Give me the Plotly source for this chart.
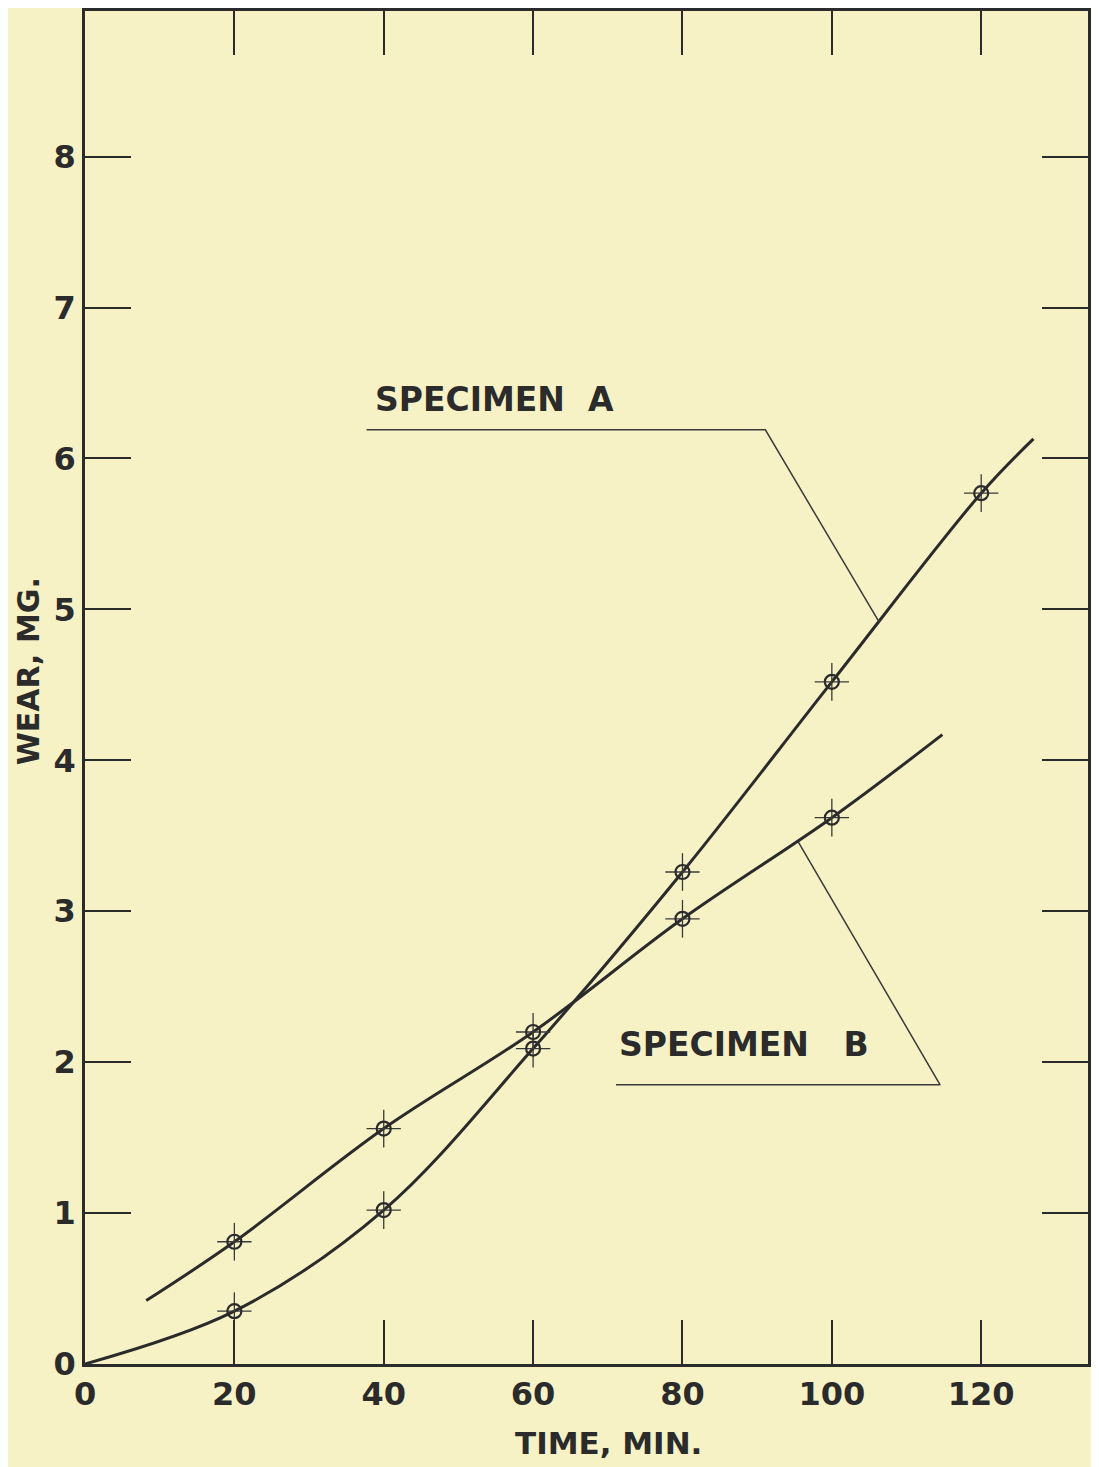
import plotly.graph_objects as go

# ---- data ----
time_pts = [20, 40, 60, 80, 100, 120]
wear_a = [0.35, 1.02, 2.09, 3.26, 4.52, 5.77]
time_pts_b = [20, 40, 60, 80, 100]
wear_b = [0.81, 1.56, 2.20, 2.95, 3.62]

# smooth fitted curves (as drawn)
curve_a_x = [0, 20, 40, 60, 80, 100, 120, 127.0]
curve_a_y = [0, 0.35, 1.02, 2.09, 3.26, 4.52, 5.77, 6.13]
curve_b_x = [8.2, 20, 40, 60, 80, 100, 114.8]
curve_b_y = [0.42, 0.81, 1.56, 2.20, 2.95, 3.62, 4.17]

# label leader lines
leader_a_x = [37.7, 91.1, 106.4]
leader_a_y = [6.19, 6.19, 4.91]
leader_b_x = [71.1, 114.5, 95.5]
leader_b_y = [1.85, 1.85, 3.46]
label_a = ("SPECIMEN\u00a0\u00a0A", 54.8, 6.39)
label_b = ("SPECIMEN\u00a0\u00a0\u00a0B", 88.3, 2.12)

x_ticks = [0, 20, 40, 60, 80, 100, 120]
y_ticks = [0, 1, 2, 3, 4, 5, 6, 7, 8]
x_title = "TIME, MIN."
y_title = "WEAR, MG."

INK = "#2b2b2b"
BG = "#F6F2C5"
FONT = "DejaVu Sans"

fig = go.Figure()

fig.add_trace(go.Scatter(x=curve_a_x, y=curve_a_y, mode="lines",
                         line=dict(color=INK, width=3, shape="spline", smoothing=1.0),
                         showlegend=False, hoverinfo="skip"))
fig.add_trace(go.Scatter(x=curve_b_x, y=curve_b_y, mode="lines",
                         line=dict(color=INK, width=3, shape="spline", smoothing=1.0),
                         showlegend=False, hoverinfo="skip"))

for xs, ys in [(time_pts, wear_a), (time_pts_b, wear_b)]:
    fig.add_trace(go.Scatter(
        x=xs, y=ys, mode="markers",
        marker=dict(symbol="circle-open", size=14, color=INK, line=dict(width=2.2, color=INK)),
        error_x=dict(type="constant", value=2.3, color="#3a3a3a", thickness=1.3, width=0),
        error_y=dict(type="constant", value=0.125, color="#3a3a3a", thickness=1.3, width=0),
        showlegend=False))

for lx, ly in [(leader_a_x, leader_a_y), (leader_b_x, leader_b_y)]:
    fig.add_trace(go.Scatter(x=lx, y=ly, mode="lines",
                             line=dict(color="#3a3a3a", width=1.5),
                             showlegend=False, hoverinfo="skip"))

for txt, tx, ty in [label_a, label_b]:
    fig.add_annotation(x=tx, y=ty, text=txt, showarrow=False,
                       font=dict(family=FONT, size=33, color=INK, weight="bold"),
                       xanchor="center", yanchor="middle")

# axis titles placed as annotations for exact positioning
fig.add_annotation(x=0.522, y=-0.0583, xref="paper", yref="paper", text=x_title,
                   showarrow=False, xanchor="center", yanchor="middle",
                   font=dict(family=FONT, size=31, color=INK, weight="bold"))
fig.add_annotation(x=-0.0762, y=0.512, xref="paper", yref="paper", text=y_title,
                   showarrow=False, xanchor="left", yanchor="middle", textangle=-90,
                   font=dict(family=FONT, size=30, color=INK, weight="bold"))

axis_common = dict(showline=True, linecolor=INK, linewidth=2.5, mirror="ticks",
                   ticks="inside", tickcolor=INK, tickwidth=2.2, showgrid=False,
                   zeroline=False,
                   tickfont=dict(family=FONT, size=32, color=INK, weight="bold"))

fig.update_xaxes(range=[0, 134.3], tickvals=x_ticks, ticklen=44, **axis_common)
fig.update_yaxes(range=[0, 8.965], tickvals=y_ticks, ticklen=46, **axis_common)

fig.update_layout(width=1083, height=1459, autosize=False,
                  margin=dict(l=77, r=1, t=0, b=103),
                  paper_bgcolor=BG, plot_bgcolor=BG,
                  showlegend=False)

fig.write_html("out.html", config={"responsive": False})
